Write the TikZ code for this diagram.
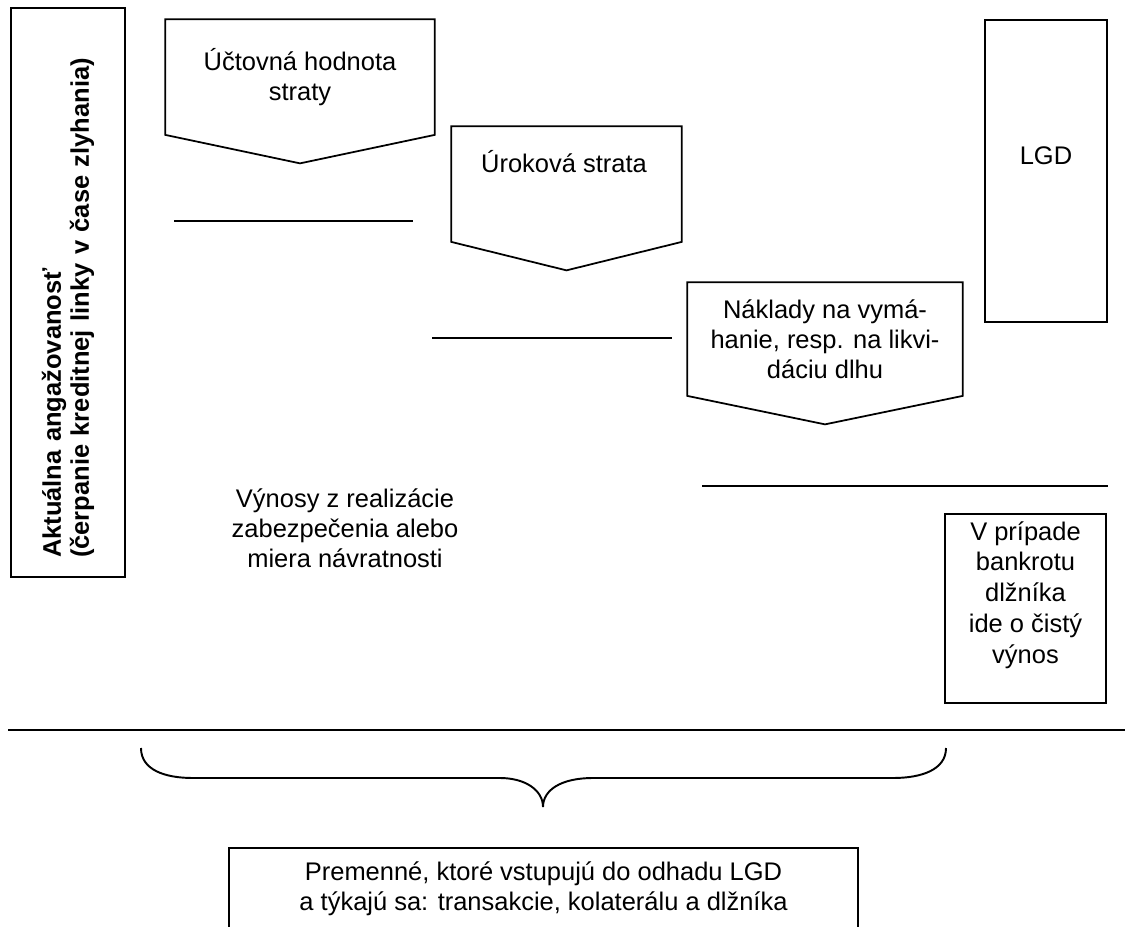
\documentclass[tikz,border=0pt]{standalone}
\usepackage{fontspec}
\setmainfont{Liberation Sans}
\usetikzlibrary{positioning,calc}

\begin{document}
\begin{tikzpicture}[
  x=0.02cm, y=-0.02cm,
  font=\fontsize{14.5}{17}\selectfont,
  line width=1pt,
  blk/.style={draw, align=center, inner sep=3pt},
  pent/.style={minimum height=2.28cm, inner sep=0pt, align=center},
  lbl/.style={align=center},
]
\useasboundingbox (0,0) rectangle (1125,926);

% ---------------- exposure (left) ----------------
\node[blk, rotate=90, minimum width=11.38cm, minimum height=2.28cm,
      inner xsep=0.38cm, text width=10.62cm, align=left, font=\fontsize{14.5}{16}\selectfont\bfseries]
  (expo) at (68,292.5)
  {Aktuálna angažovanosť\\(čerpanie kreditnej linky v čase zlyhania)};

% ---------------- loss components ----------------
\def\tip{0.57cm}  % depth of the pointer below each box

\node[pent, minimum width=5.36cm] (ucet) at (300,77) {Účtovná hodnota\\ straty};
\node[pent, minimum width=4.58cm] (urok) at (566.5,184) {};
\node[lbl] (urokT) at (564,162) {Úroková strata};
\node[pent, minimum width=5.48cm, minimum height=2.24cm] (naklady) at (825,339)
  {Náklady na vymá-\\ hanie, resp. na likvi-\\ dáciu dlhu};

\foreach \n in {ucet,urok,naklady} {
  \draw (\n.south west) -- (\n.north west) -- (\n.north east) -- (\n.south east)
    -- ([yshift=-\tip]\n.south) -- cycle;
}

% step lines
\draw (174,221) -- (413,221);
\draw (432,338) -- (672,338);
\draw (702,486) -- (1108,486);

% ---------------- LGD and recovery ----------------
\node[blk, minimum width=2.44cm, minimum height=6.04cm] (lgd) at (1046,171) {};
\node[lbl] (lgdT) at (1046,156) {LGD};

\node[lbl] (vynosy) at (345,528)
  {Výnosy z realizácie\\ zabezpečenia alebo\\ miera návratnosti};

\node[blk, minimum width=3.22cm, minimum height=3.78cm] (pripad) at (1025.5,608.5) {};
\node[lbl, font=\fontsize{14.5}{17.5}\selectfont] (pripadT) at (1025.5,595)
  {V prípade\\ bankrotu\\ dlžníka\\ ide o čistý\\ výnos};

% ---------------- bottom ----------------
\draw (8,730) -- (1125,730);

\draw[line width=1.1pt] (141,748) .. controls (141,770) and (165,778) .. (193,778)
  -- (500,778) .. controls (525,778) and (543,790) .. (543,807)
  .. controls (543,790) and (561,778) .. (593,778)
  -- (893,778) .. controls (921,778) and (946,770) .. (946,748);

\node[blk, anchor=north, minimum width=12.58cm, minimum height=1.64cm] (premenne) at (543.5,847)
  {Premenné, ktoré vstupujú do odhadu LGD\\ a týkajú sa: transakcie, kolaterálu a dlžníka};

\end{tikzpicture}
\end{document}
